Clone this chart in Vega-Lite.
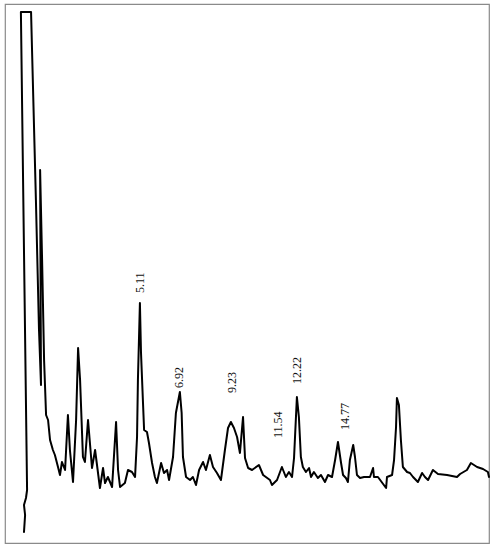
{
  "$schema": "https://vega.github.io/schema/vega-lite/v6.json",
  "width": 484,
  "height": 539,
  "autosize": {"type": "none"},
  "padding": {"left": 5, "top": 4, "right": 8, "bottom": 7},
  "background": "white",
  "config": {"view": {"stroke": "#8a8a8a", "strokeWidth": 1.2}},
  "datasets": {
    "trace": [
      {"i": 1, "t": -0.14, "s": 11},
      {"i": 2, "t": -0.09, "s": 28},
      {"i": 3, "t": -0.14, "s": 38},
      {"i": 4, "t": -0.05, "s": 45},
      {"i": 5, "t": 0.0, "s": 53},
      {"i": 6, "t": -0.28, "s": 531},
      {"i": 7, "t": 0.18, "s": 531},
      {"i": 8, "t": 0.40, "s": 343},
      {"i": 9, "t": 0.54, "s": 213},
      {"i": 10, "t": 0.63, "s": 158},
      {"i": 11, "t": 0.59, "s": 373},
      {"i": 12, "t": 0.68, "s": 283},
      {"i": 13, "t": 0.77, "s": 183},
      {"i": 14, "t": 0.86, "s": 128},
      {"i": 15, "t": 0.95, "s": 123},
      {"i": 16, "t": 1.04, "s": 103},
      {"i": 17, "t": 1.17, "s": 93},
      {"i": 18, "t": 1.26, "s": 88},
      {"i": 19, "t": 1.40, "s": 76},
      {"i": 20, "t": 1.49, "s": 68},
      {"i": 21, "t": 1.58, "s": 81},
      {"i": 22, "t": 1.72, "s": 73},
      {"i": 23, "t": 1.85, "s": 128},
      {"i": 24, "t": 1.94, "s": 93},
      {"i": 25, "t": 2.08, "s": 61},
      {"i": 26, "t": 2.22, "s": 123},
      {"i": 27, "t": 2.31, "s": 195},
      {"i": 28, "t": 2.40, "s": 163},
      {"i": 29, "t": 2.53, "s": 86},
      {"i": 30, "t": 2.62, "s": 81},
      {"i": 31, "t": 2.76, "s": 123},
      {"i": 32, "t": 2.94, "s": 75},
      {"i": 33, "t": 3.08, "s": 93},
      {"i": 34, "t": 3.30, "s": 55},
      {"i": 35, "t": 3.44, "s": 75},
      {"i": 36, "t": 3.53, "s": 60},
      {"i": 37, "t": 3.66, "s": 66},
      {"i": 38, "t": 3.85, "s": 56},
      {"i": 39, "t": 4.03, "s": 121},
      {"i": 40, "t": 4.12, "s": 73},
      {"i": 41, "t": 4.21, "s": 56},
      {"i": 42, "t": 4.43, "s": 60},
      {"i": 43, "t": 4.57, "s": 73},
      {"i": 44, "t": 4.75, "s": 71},
      {"i": 45, "t": 4.89, "s": 66},
      {"i": 46, "t": 4.98, "s": 106},
      {"i": 47, "t": 5.02, "s": 163},
      {"i": 48, "t": 5.11, "s": 240},
      {"i": 49, "t": 5.16, "s": 190},
      {"i": 50, "t": 5.25, "s": 140},
      {"i": 51, "t": 5.30, "s": 113},
      {"i": 52, "t": 5.43, "s": 111},
      {"i": 53, "t": 5.52, "s": 100},
      {"i": 54, "t": 5.66, "s": 80},
      {"i": 55, "t": 5.79, "s": 66},
      {"i": 56, "t": 5.88, "s": 60},
      {"i": 57, "t": 6.07, "s": 80},
      {"i": 58, "t": 6.20, "s": 70},
      {"i": 59, "t": 6.34, "s": 73},
      {"i": 60, "t": 6.43, "s": 63},
      {"i": 61, "t": 6.61, "s": 86},
      {"i": 62, "t": 6.74, "s": 130},
      {"i": 63, "t": 6.92, "s": 151},
      {"i": 64, "t": 7.00, "s": 130},
      {"i": 65, "t": 7.06, "s": 86},
      {"i": 66, "t": 7.20, "s": 66},
      {"i": 67, "t": 7.38, "s": 63},
      {"i": 68, "t": 7.51, "s": 66},
      {"i": 69, "t": 7.65, "s": 58},
      {"i": 70, "t": 7.79, "s": 73},
      {"i": 71, "t": 7.97, "s": 81},
      {"i": 72, "t": 8.10, "s": 73},
      {"i": 73, "t": 8.28, "s": 88},
      {"i": 74, "t": 8.42, "s": 76},
      {"i": 75, "t": 8.60, "s": 70},
      {"i": 76, "t": 8.78, "s": 63},
      {"i": 77, "t": 8.96, "s": 93},
      {"i": 78, "t": 9.10, "s": 115},
      {"i": 79, "t": 9.23, "s": 121},
      {"i": 80, "t": 9.37, "s": 115},
      {"i": 81, "t": 9.51, "s": 106},
      {"i": 82, "t": 9.64, "s": 90},
      {"i": 83, "t": 9.78, "s": 126},
      {"i": 84, "t": 9.87, "s": 85},
      {"i": 85, "t": 10.01, "s": 75},
      {"i": 86, "t": 10.19, "s": 73},
      {"i": 87, "t": 10.50, "s": 78},
      {"i": 88, "t": 10.69, "s": 68},
      {"i": 89, "t": 11.00, "s": 63},
      {"i": 90, "t": 11.09, "s": 58},
      {"i": 91, "t": 11.32, "s": 63},
      {"i": 92, "t": 11.54, "s": 76},
      {"i": 93, "t": 11.72, "s": 66},
      {"i": 94, "t": 11.86, "s": 71},
      {"i": 95, "t": 12.00, "s": 66},
      {"i": 96, "t": 12.09, "s": 85},
      {"i": 97, "t": 12.22, "s": 146},
      {"i": 98, "t": 12.31, "s": 126},
      {"i": 99, "t": 12.40, "s": 86},
      {"i": 100, "t": 12.49, "s": 76},
      {"i": 101, "t": 12.63, "s": 71},
      {"i": 102, "t": 12.77, "s": 75},
      {"i": 103, "t": 12.86, "s": 66},
      {"i": 104, "t": 12.99, "s": 71},
      {"i": 105, "t": 13.17, "s": 65},
      {"i": 106, "t": 13.31, "s": 68},
      {"i": 107, "t": 13.49, "s": 61},
      {"i": 108, "t": 13.63, "s": 68},
      {"i": 109, "t": 13.81, "s": 66},
      {"i": 110, "t": 13.95, "s": 83},
      {"i": 111, "t": 14.08, "s": 101},
      {"i": 112, "t": 14.22, "s": 80},
      {"i": 113, "t": 14.31, "s": 68},
      {"i": 114, "t": 14.44, "s": 65},
      {"i": 115, "t": 14.53, "s": 61},
      {"i": 116, "t": 14.62, "s": 83},
      {"i": 117, "t": 14.77, "s": 98},
      {"i": 118, "t": 14.85, "s": 86},
      {"i": 119, "t": 14.94, "s": 68},
      {"i": 120, "t": 15.08, "s": 65},
      {"i": 121, "t": 15.26, "s": 66},
      {"i": 122, "t": 15.53, "s": 66},
      {"i": 123, "t": 15.67, "s": 75},
      {"i": 124, "t": 15.71, "s": 66},
      {"i": 125, "t": 15.89, "s": 66},
      {"i": 126, "t": 16.26, "s": 55},
      {"i": 127, "t": 16.30, "s": 66},
      {"i": 128, "t": 16.53, "s": 68},
      {"i": 129, "t": 16.62, "s": 83},
      {"i": 130, "t": 16.71, "s": 116},
      {"i": 131, "t": 16.75, "s": 145},
      {"i": 132, "t": 16.84, "s": 138},
      {"i": 133, "t": 16.93, "s": 103},
      {"i": 134, "t": 17.02, "s": 76},
      {"i": 135, "t": 17.21, "s": 71},
      {"i": 136, "t": 17.34, "s": 70},
      {"i": 137, "t": 17.48, "s": 66},
      {"i": 138, "t": 17.70, "s": 61},
      {"i": 139, "t": 17.89, "s": 70},
      {"i": 140, "t": 18.02, "s": 66},
      {"i": 141, "t": 18.16, "s": 63},
      {"i": 142, "t": 18.38, "s": 73},
      {"i": 143, "t": 18.61, "s": 69},
      {"i": 144, "t": 19.02, "s": 68},
      {"i": 145, "t": 19.47, "s": 66},
      {"i": 146, "t": 19.61, "s": 69},
      {"i": 147, "t": 19.92, "s": 73},
      {"i": 148, "t": 20.10, "s": 80},
      {"i": 149, "t": 20.38, "s": 76},
      {"i": 150, "t": 20.65, "s": 74},
      {"i": 151, "t": 20.87, "s": 71},
      {"i": 152, "t": 20.92, "s": 66}
    ],
    "peaks": [
      {"label": "5.11", "t": 5.11, "s": 250},
      {"label": "6.92", "t": 6.88, "s": 155},
      {"label": "9.23", "t": 9.28, "s": 150},
      {"label": "11.54", "t": 11.36, "s": 105},
      {"label": "12.22", "t": 12.22, "s": 159},
      {"label": "14.77", "t": 14.40, "s": 113}
    ]
  },
  "layer": [
    {
      "data": {"name": "trace"},
      "mark": {"type": "line", "color": "black", "strokeWidth": 2, "strokeJoin": "round", "strokeCap": "round"},
      "encoding": {
        "x": {"field": "t", "type": "quantitative", "scale": {"domain": [-1.0, 20.92], "nice": false, "zero": false}, "axis": null},
        "y": {"field": "s", "type": "quantitative", "scale": {"domain": [0, 539], "nice": false, "zero": false}, "axis": null},
        "order": {"field": "i", "type": "quantitative"}
      }
    },
    {
      "data": {"name": "peaks"},
      "mark": {"type": "text", "angle": 270, "align": "left", "baseline": "middle", "font": "Liberation Serif", "fontSize": 12, "color": "#111111"},
      "encoding": {
        "x": {"field": "t", "type": "quantitative", "scale": {"domain": [-1.0, 20.92], "nice": false, "zero": false}, "axis": null},
        "y": {"field": "s", "type": "quantitative", "scale": {"domain": [0, 539], "nice": false, "zero": false}, "axis": null},
        "text": {"field": "label", "type": "nominal"}
      }
    }
  ]
}
